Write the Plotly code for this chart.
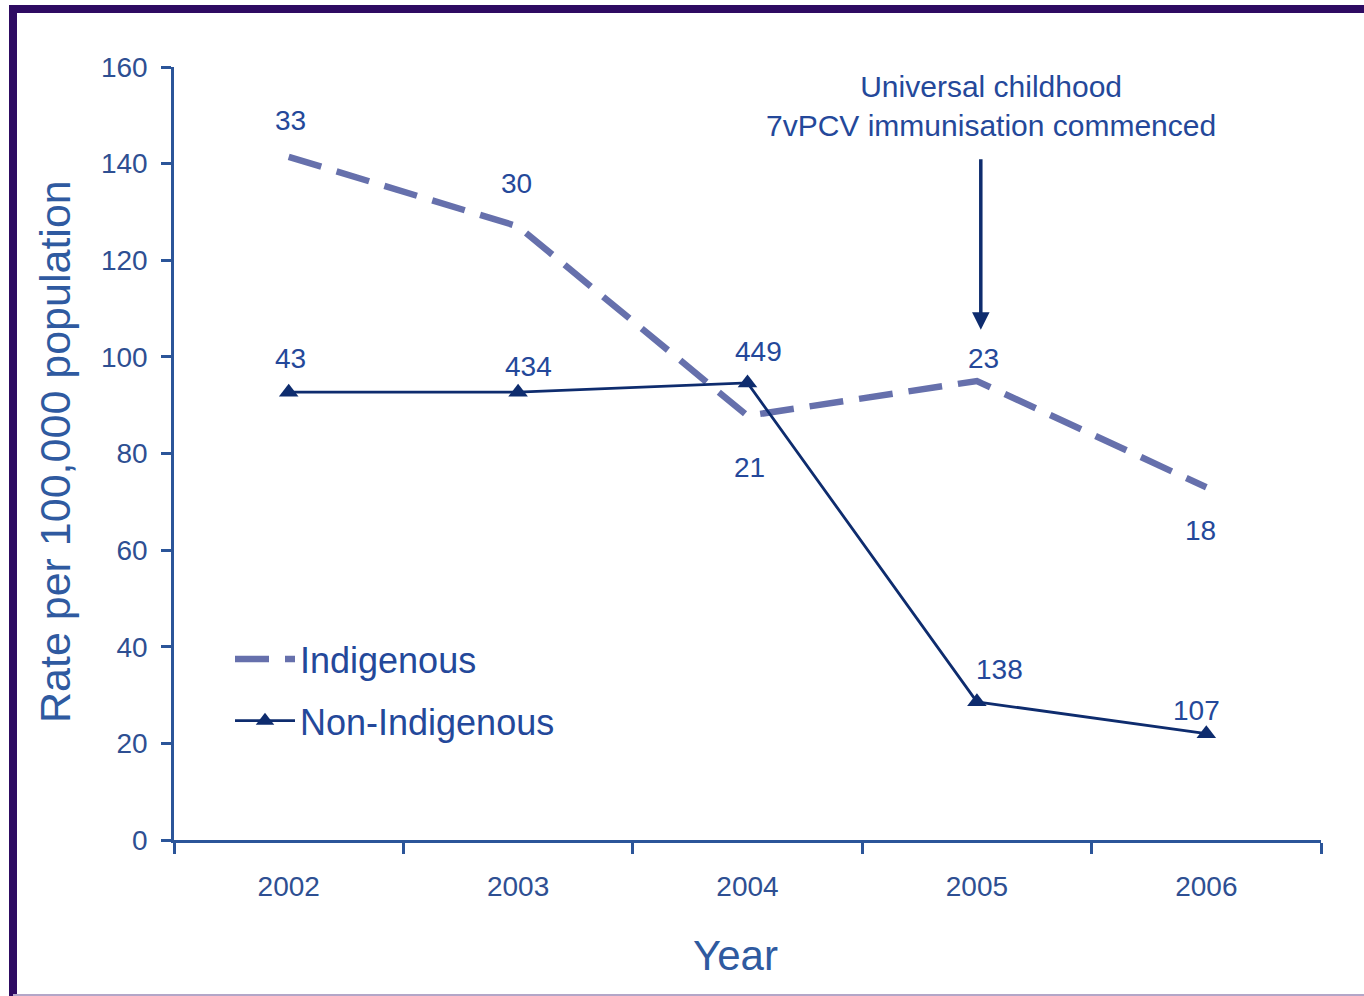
import plotly.graph_objects as go

# Rates per 100,000 population by year
years = ["2002", "2003", "2004", "2005", "2006"]
indigenous_rate = [141.4, 127.0, 87.8, 95.0, 73.0]
non_indigenous_rate = [92.7, 92.7, 94.6, 28.6, 22.0]

# Case counts printed beside each point
indigenous_counts = ["33", "30", "21", "23", "18"]
non_indigenous_counts = ["43", "434", "449", "138", "107"]

# Pixel offsets of the count labels from their points (dx, dy; dy>0 means up)
indigenous_label_offsets = [(2, 36), (-2, 43), (2, -52), (7, 23), (-6, -43)]
non_indigenous_label_offsets = [(2, 34), (10, 26), (11, 31), (23, 32), (-10, 23)]

TEXT = "#24489A"
TICKTEXT = "#2E4F92"
AXIS = "#2B5599"
INDIG = "#6670AC"
NONINDIG = "#0E2C6E"
BORDER = "#2E0B62"
FONT = "Arial, Liberation Sans, sans-serif"

W, H = 1364, 996
L, R, T, B = 174, 43, 67, 156
PW, PH = W - L - R, H - T - B


def px_x(px):
    return (px - L) / PW


def px_y(py):
    return (H - B - py) / PH


fig = go.Figure()

fig.add_trace(go.Scatter(
    x=years, y=indigenous_rate, name="Indigenous", mode="lines",
    line=dict(color=INDIG, width=6.5, dash="34px,16px"),
    legendgroup="a",
))
fig.add_trace(go.Scatter(
    x=years, y=non_indigenous_rate, name="Non-Indigenous", mode="lines+markers",
    line=dict(color=NONINDIG, width=2.8),
    marker=dict(symbol="triangle-up", size=17, color=NONINDIG),
    legendgroup="b",
))

annotations = []
for i, (v, lab) in enumerate(zip(indigenous_rate, indigenous_counts)):
    dx, dy = indigenous_label_offsets[i]
    annotations.append(dict(x=i, y=v, text=lab, showarrow=False, xshift=dx, yshift=dy,
                            font=dict(size=28, color=TEXT, family=FONT)))
for i, (v, lab) in enumerate(zip(non_indigenous_rate, non_indigenous_counts)):
    dx, dy = non_indigenous_label_offsets[i]
    annotations.append(dict(x=i, y=v, text=lab, showarrow=False, xshift=dx, yshift=dy,
                            font=dict(size=28, color=TEXT, family=FONT)))

# Immunisation programme note with downward arrow at 2005
annotations.append(dict(
    x=3.06, y=152.0, text="Universal childhood<br>7vPCV immunisation commenced",
    showarrow=False, font=dict(size=30, color=TEXT, family=FONT), align="center",
))
annotations.append(dict(
    x=3.017, y=105.6, ax=0, ay=-172, text="", showarrow=True,
    arrowhead=2, arrowsize=1.0, arrowwidth=3.5, arrowcolor=NONINDIG,
))

# Axis titles
annotations.append(dict(
    xref="paper", yref="paper", x=px_x(55), y=px_y(452), xanchor="center", yanchor="middle",
    text="Rate per 100,000 population", textangle=-90, showarrow=False,
    font=dict(size=43, color="#2F5AA0", family=FONT),
))
annotations.append(dict(
    xref="paper", yref="paper", x=px_x(735), y=px_y(955), xanchor="center", yanchor="middle",
    text="Year", showarrow=False, font=dict(size=42, color="#2F5AA0", family=FONT),
))

# Frame around the figure
shapes = [
    dict(type="line", xref="paper", yref="paper", x0=px_x(13), x1=px_x(1380),
         y0=px_y(9), y1=px_y(9), line=dict(color=BORDER, width=8)),
    dict(type="line", xref="paper", yref="paper", x0=px_x(13), x1=px_x(13),
         y0=px_y(5), y1=px_y(1000), line=dict(color=BORDER, width=8)),
    dict(type="line", xref="paper", yref="paper", x0=px_x(13), x1=px_x(1380),
         y0=px_y(995), y1=px_y(995), line=dict(color="#B3A6C8", width=2)),
]

fig.update_layout(
    width=W, height=H,
    margin=dict(l=L, r=R, t=T, b=B),
    paper_bgcolor="white", plot_bgcolor="white",
    font=dict(family=FONT, color=TEXT),
    showlegend=True,
    legend=dict(
        x=px_x(230), y=px_y(629), xanchor="left", yanchor="top",
        bgcolor="rgba(0,0,0,0)", font=dict(size=36, color=TEXT, family=FONT),
        tracegroupgap=12, itemwidth=60,
    ),
    annotations=annotations,
    shapes=shapes,
    xaxis=dict(
        type="category", range=[-0.5, 4.5], tickson="boundaries",
        showline=True, linecolor=AXIS, linewidth=2.5,
        ticks="outside", ticklen=11, tickwidth=2.5, tickcolor=AXIS,
        tickfont=dict(size=28, color=TICKTEXT, family=FONT),
        ticklabelstandoff=20,
        showgrid=False, zeroline=False,
    ),
    yaxis=dict(
        range=[0, 160], dtick=20,
        showline=True, linecolor=AXIS, linewidth=2.5,
        ticks="outside", ticklen=10, tickwidth=2.5, tickcolor=AXIS,
        tickfont=dict(size=28, color=TICKTEXT, family=FONT),
        ticklabelstandoff=8,
        showgrid=False, zeroline=False,
    ),
)

fig.write_html("out.html")
